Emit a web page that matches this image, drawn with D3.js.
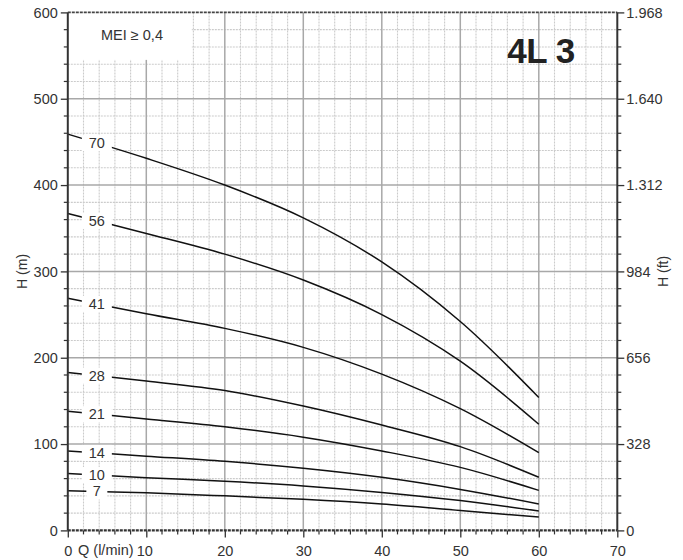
<!DOCTYPE html>
<html><head><meta charset="utf-8">
<script src="https://cdn.jsdelivr.net/npm/d3@7"></script>
<style>
html,body{margin:0;padding:0;background:#fff;}
text{font-family:"Liberation Sans",Arial,Helvetica,sans-serif;fill:#333;}
</style></head>
<body>
<svg id="c" width="683" height="560"></svg>
<script>
// ---- data ----
const flow = [0, 10, 20, 30, 40, 50, 60];               // Q (l/min)
const stages = ["70", "56", "41", "28", "21", "14", "10", "7"];
const head70 = [459, 431, 400, 362, 311, 242, 154];
const head56 = [367, 344, 320, 290, 250, 196, 123];
const head41 = [269, 251, 234, 212, 181, 141, 90];
const head28 = [183, 173, 162, 144, 122, 97, 61.5];
const head21 = [138, 129, 120, 108, 92, 73, 46.4];
const head14 = [92, 86, 80, 72, 61.5, 47.5, 30.6];
const head10 = [66, 61, 57, 51.5, 44, 34.5, 22.5];
const head7  = [46, 43.5, 40, 36, 30.5, 23, 15.5];
const xTickValues = [0, 10, 20, 30, 40, 50, 60, 70];
const yTickValues = [0, 100, 200, 300, 400, 500, 600];
const ftTickLabels = ["0", "328", "656", "984", "1.312", "1.640", "1.968"];
const badge = "MEI ≥ 0,4";
const model = "4L 3";

const heads = [head70, head56, head41, head28, head21, head14, head10, head7];

// ---- layout ----
const svg = d3.select("#c");
const L = 67.8, R = 617.3, T = 12.4, B = 530.4;
const x = d3.scaleLinear().domain([0, 70]).range([L, R]);
const y = d3.scaleLinear().domain([0, 600]).range([B, T]);

// grid
const g = svg.append("g");
const minorX = d3.range(0, 70.01, 2).filter(v => v % 10 !== 0);
const minorY = d3.range(0, 600.01, 20).filter(v => v % 100 !== 0);
g.selectAll(".mx").data(minorX).join("line")
  .attr("x1", d => x(d)).attr("x2", d => x(d)).attr("y1", T).attr("y2", B)
  .attr("stroke", "#cbcbcb").attr("stroke-width", 1.1).attr("stroke-dasharray", "2,1");
g.selectAll(".my").data(minorY).join("line")
  .attr("y1", d => y(d)).attr("y2", d => y(d)).attr("x1", L).attr("x2", R)
  .attr("stroke", "#cbcbcb").attr("stroke-width", 1.1).attr("stroke-dasharray", "2,1");
g.selectAll(".Mx").data(xTickValues.filter(v => v > 0 && v < 70)).join("line")
  .attr("x1", d => x(d)).attr("x2", d => x(d)).attr("y1", T).attr("y2", B)
  .attr("stroke", "#a8a8a8").attr("stroke-width", 1.5);
g.selectAll(".My").data(yTickValues.filter(v => v > 0 && v < 600)).join("line")
  .attr("y1", d => y(d)).attr("y2", d => y(d)).attr("x1", L).attr("x2", R)
  .attr("stroke", "#a8a8a8").attr("stroke-width", 1.5);

// white badge box
svg.append("rect").attr("x", x(0)).attr("y", y(600)).attr("width", x(15.8) - x(0)).attr("height", y(545) - y(600)).attr("fill", "#fff");
svg.append("text").attr("x", 132).attr("y", 40).attr("text-anchor", "middle")
  .attr("font-size", 14.5).text(badge);

// model title
svg.append("text").attr("x", 541).attr("y", 63).attr("text-anchor", "middle")
  .attr("font-size", 35).attr("font-weight", "bold")
  .style("fill", "#222").attr("letter-spacing", "-0.5").text(model);

// curves
const line = d3.line().x(d => x(d[0])).y(d => y(d[1])).curve(d3.curveCatmullRom.alpha(0.5));
heads.forEach((h, i) => {
  const pts = flow.map((q, k) => [q, h[k]]);
  svg.append("path").attr("d", line(pts)).attr("fill", "none")
    .attr("stroke", "#111").attr("stroke-width", 1.5);
});

// curve labels
const labQ = 3.7;
heads.forEach((h, i) => {
  const hv = h[0] + (h[1] - h[0]) * labQ / 10;
  const cx = x(labQ), cy = y(hv);
  const w = stages[i].length === 1 ? 15 : 24;
  svg.append("rect").attr("x", cx - w / 2 - 3).attr("y", cy - 8).attr("width", w + 6).attr("height", 16).attr("fill", "#fff");
  svg.append("text").attr("x", cx).attr("y", cy + 5).attr("text-anchor", "middle")
    .attr("font-size", 14.5).text(stages[i]);
});

// frame
svg.append("line").attr("x1", L).attr("x2", R).attr("y1", T).attr("y2", T)
  .attr("stroke", "#444").attr("stroke-width", 1.6).attr("stroke-dasharray", "3,1");
svg.append("line").attr("x1", L).attr("x2", R).attr("y1", B).attr("y2", B)
  .attr("stroke", "#333").attr("stroke-width", 2.2).attr("stroke-dasharray", "3,1");
svg.append("line").attr("x1", L).attr("x2", L).attr("y1", T).attr("y2", B)
  .attr("stroke", "#333").attr("stroke-width", 2);
svg.append("line").attr("x1", R).attr("x2", R).attr("y1", T).attr("y2", B)
  .attr("stroke", "#333").attr("stroke-width", 2);

// axes
const leftAxis = d3.axisLeft(y).tickValues(yTickValues).tickSize(7).tickPadding(3);
const la = svg.append("g").attr("transform", `translate(${L},0)`).call(leftAxis);
const rightAxis = d3.axisRight(y).tickValues(yTickValues).tickSize(7).tickPadding(2)
  .tickFormat((d, i) => ftTickLabels[i]);
const ra = svg.append("g").attr("transform", `translate(${R},0)`).call(rightAxis);
const bottomAxis = d3.axisBottom(x).tickValues(xTickValues).tickSize(7).tickPadding(8);
const ba = svg.append("g").attr("transform", `translate(0,${B})`).call(bottomAxis);
[la, ra, ba].forEach(a => {
  a.select(".domain").remove();
  a.selectAll(".tick line").attr("stroke", "#333").attr("stroke-width", 1.3);
  a.selectAll(".tick text").attr("font-size", 14.5).attr("fill", "#333")
    .attr("font-family", "Liberation Sans, Arial, sans-serif");
});
ba.selectAll(".tick text").filter(d => d === 10).attr("dx", -2);
// minor ticks
svg.append("g").selectAll("line").data(minorY).join("line")
  .attr("x1", L - 4).attr("x2", L).attr("y1", d => y(d)).attr("y2", d => y(d))
  .attr("stroke", "#333").attr("stroke-width", 1.2);
svg.append("g").selectAll("line").data(minorY).join("line")
  .attr("x1", R).attr("x2", R + 4).attr("y1", d => y(d)).attr("y2", d => y(d))
  .attr("stroke", "#333").attr("stroke-width", 1.2);
svg.append("g").selectAll("line").data(minorX).join("line")
  .attr("x1", d => x(d)).attr("x2", d => x(d)).attr("y1", B).attr("y2", B + 4)
  .attr("stroke", "#333").attr("stroke-width", 1.2);

// axis titles
svg.append("text").attr("x", 78).attr("y", 555).attr("font-size", 14.5).text("Q (l/min)");
svg.append("text").attr("transform", `translate(27,${y(300)}) rotate(-90)`)
  .attr("text-anchor", "middle").attr("font-size", 14).text("H (m)");
svg.append("text").attr("transform", `translate(668,${y(300)}) rotate(-90)`)
  .attr("text-anchor", "middle").attr("font-size", 14).text("H (ft)");
</script>
</body></html>
